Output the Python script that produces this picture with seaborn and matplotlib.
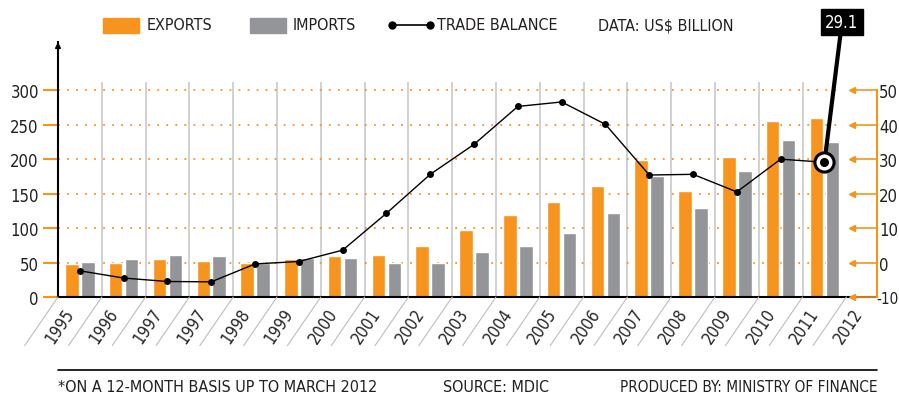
import numpy as np
import pandas as pd
import seaborn as sns
import matplotlib.pyplot as plt
from matplotlib.patches import Rectangle
from matplotlib.lines import Line2D
from matplotlib.transforms import ScaledTranslation

# data (US$ billion)
years = ["1995", "1996", "1997", "1997", "1998", "1999", "2000", "2001", "2002",
         "2003", "2004", "2005", "2006", "2007", "2008", "2009", "2010", "2011", "2012"]
exports = [48, 49, 55, 52, 49, 55, 59.5, 61, 74, 97, 119, 138, 161, 199, 154, 203, 256, 259]
imports = [51, 55, 61, 59, 49, 56.5, 56.5, 49, 49, 65, 74, 93, 122, 175, 129, 183, 228, 225]
balance = [-2.4, -4.5, -5.5, -5.6, -0.4, 0.3, 3.6, 14.3, 25.6, 34.3, 45.3, 46.6,
           40.1, 25.4, 25.6, 20.5, 30.0, 29.1]
left_ticks = [0, 50, 100, 150, 200, 250, 300]
right_ticks = [-10, 0, 10, 20, 30, 40, 50]

ORANGE = "#F7941E"
GRAY = "#939598"
INK = "#231F20"
W, H = 899, 402
FS = 11.5

sns.set_style("white")
plt.rcParams["font.family"] = ["DejaVu Sans"]
plt.rcParams["font.stretch"] = "condensed"
plt.rcParams["axes.unicode_minus"] = False
plt.rcParams["text.color"] = INK

n = len(exports)
df = pd.DataFrame({
    "slot": list(range(n)) * 2,
    "series": ["EXPORTS"] * n + ["IMPORTS"] * n,
    "value": exports + imports,
})

fig = plt.figure(figsize=(W / 100, H / 100), dpi=100)
ax = fig.add_axes([58 / W, 104 / H, (877 - 58) / W, (298 - 43) / H])

sns.barplot(data=df, x="slot", y="value", hue="series", palette=[ORANGE, GRAY],
            width=0.73, gap=0.15, saturation=1, legend=False, ax=ax, zorder=2)

ax2 = ax.twinx()
sns.lineplot(x=list(range(n)), y=balance, ax=ax2, color="black", lw=1,
             marker="o", markersize=5, markeredgewidth=0, zorder=4)

# highlighted last point + callout
ax2.scatter([n - 1], [balance[-1]], s=190, facecolor="white", edgecolor="black",
            linewidth=2.2, zorder=6)
ax2.scatter([n - 1], [balance[-1]], s=30, color="black", zorder=7)
ax2.annotate(f"{balance[-1]:.1f}", xy=(n - 1, balance[-1]), xytext=(842, 379),
             textcoords="figure pixels", ha="center", va="center", color="white",
             fontsize=12, bbox=dict(boxstyle="square,pad=0.25", fc="black", ec="black"),
             arrowprops=dict(arrowstyle="-", color="black", lw=3, shrinkA=0, shrinkB=0),
             zorder=5)

ax.set_ylim(0, 370)
ax2.set_ylim(-10, 64)
ax.set_xlim(-0.5, 18.2)

# grid
ax.hlines(left_ticks[1:], -0.5, 17.35, colors=ORANGE, linestyles=(0, (1, 4)), lw=1.3, zorder=0.5)
ax.vlines(np.arange(0.5, 17), 0, 312, colors="#C9C9C9", lw=1.2, zorder=0.4)
for b in np.arange(-0.5, 18):
    ax.annotate("", xy=(b, 0), xytext=(-24, -35), textcoords="offset points",
                arrowprops=dict(arrowstyle="-", color="#BDBDBD", lw=0.8, shrinkA=0, shrinkB=0),
                annotation_clip=False)

# axes styling
ax.set_xlabel("")
ax.set_ylabel("")
ax2.set_ylabel("")
ax.set_xticks(range(len(years)))
ax.set_xticklabels(years, rotation=56, ha="right", va="center", rotation_mode="anchor", fontsize=12)
ax.tick_params(axis="x", length=0, pad=9.4)
for lab in ax.get_xticklabels():
    lab.set_transform(lab.get_transform() + ScaledTranslation(-9 / 100, 0, fig.dpi_scale_trans))

ax.set_yticks(left_ticks)
ax.tick_params(axis="y", direction="out", length=10.8, width=1.5, color=ORANGE,
               pad=3, labelsize=12, labelcolor=INK)
ax2.set_yticks(right_ticks)
ax2.tick_params(axis="y", direction="in", length=18, width=1.2, color=ORANGE,
                pad=1.5, labelsize=12, labelcolor=INK)
# keep the "-10" inside the canvas
bottom_lab = ax2.get_yticklabels()[0]
bottom_lab.set_fontsize(11)
bottom_lab.set_transform(bottom_lab.get_transform() + ScaledTranslation(-3 / 100, 0, fig.dpi_scale_trans))
ax2.plot([0.9695] * len(right_ticks), right_ticks, marker="<", ms=4, lw=0,
         color=ORANGE, transform=ax2.get_yaxis_transform(), clip_on=False)

for s in ["top", "right"]:
    ax.spines[s].set_visible(False)
for s in ["left", "bottom"]:
    ax.spines[s].set_color("black")
    ax.spines[s].set_linewidth(1.5)
for s in ["top", "left", "bottom"]:
    ax2.spines[s].set_visible(False)
ax2.spines["right"].set_color(ORANGE)
ax2.spines["right"].set_linewidth(1.5)
ax2.spines["right"].set_bounds(-10, 50)
ax.annotate("", xy=(0, 1), xytext=(0, 0.93), xycoords="axes fraction",
            arrowprops=dict(arrowstyle="-|>", color="black", lw=1.2, mutation_scale=8,
                            shrinkA=0, shrinkB=0))

# legend
def px(x, y):
    return x / W, (H - y) / H

fig.add_artist(Rectangle(px(103, 34), 36 / W, 15 / H, color=ORANGE, transform=fig.transFigure))
fig.text(*px(147, 26), "EXPORTS", fontsize=FS, va="center")
fig.add_artist(Rectangle(px(250, 34), 36 / W, 15 / H, color=GRAY, transform=fig.transFigure))
fig.text(*px(293, 26), "IMPORTS", fontsize=FS, va="center")
fig.add_artist(Line2D([392 / W, 430 / W], [px(0, 26)[1]] * 2, color="black", lw=1.2,
                      marker="o", ms=5, transform=fig.transFigure))
fig.text(*px(437, 26), "TRADE BALANCE", fontsize=FS, va="center")
fig.text(*px(598, 26), "DATA: US$ BILLION", fontsize=FS, va="center")

# footer
fig.add_artist(Line2D([58 / W, 877 / W], [px(0, 371)[1]] * 2, color="black", lw=1.2,
                      transform=fig.transFigure))
fig.text(*px(58, 388), "*ON A 12-MONTH BASIS UP TO MARCH 2012", fontsize=FS, va="center")
fig.text(*px(443, 388), "SOURCE: MDIC", fontsize=FS, va="center")
fig.text(*px(877, 388), "PRODUCED BY: MINISTRY OF FINANCE", fontsize=11, va="center", ha="right")

fig.savefig("out.png", dpi=100)
